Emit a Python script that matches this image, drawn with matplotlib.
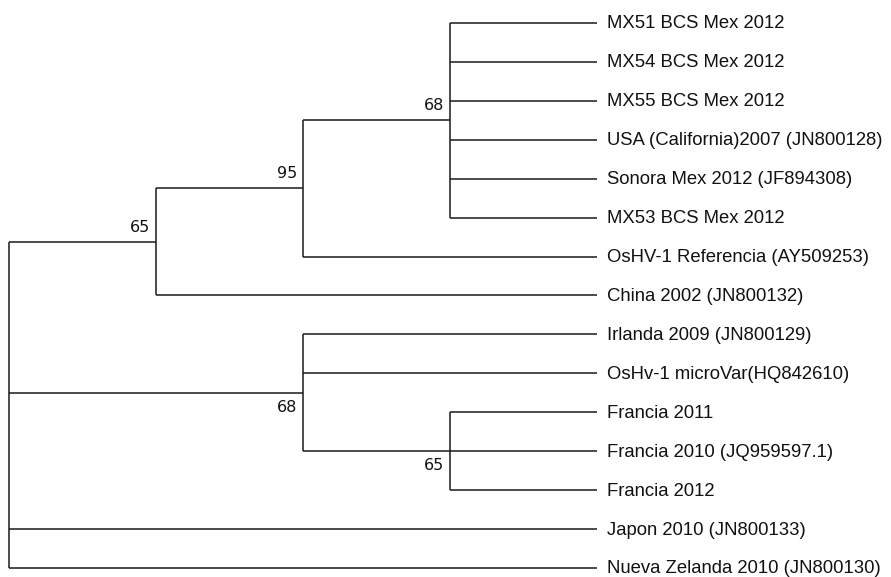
import matplotlib
matplotlib.use("Agg")
import matplotlib.pyplot as plt

# arbol (topologia) - nodos internos: (bootstrap, [hijos]), hojas: texto
tree = (None, [
    (65, [
        (95, [
            (68, ["MX51 BCS Mex 2012",
                  "MX54 BCS Mex 2012",
                  "MX55 BCS Mex 2012",
                  "USA (California)2007 (JN800128)",
                  "Sonora Mex 2012 (JF894308)",
                  "MX53 BCS Mex 2012"]),
            "OsHV-1 Referencia (AY509253)"]),
        "China 2002 (JN800132)"]),
    (68, ["Irlanda 2009 (JN800129)",
          "OsHv-1 microVar(HQ842610)",
          (65, ["Francia 2011",
                "Francia 2010 (JQ959597.1)",
                "Francia 2012"])]),
    "Japon 2010 (JN800133)",
    "Nueva Zelanda 2010 (JN800130)",
])

# lado de la etiqueta de bootstrap (en orden de recorrido)
label_side = ["above", "above", "above", "below", "below"]

col = "#1a1a1a"
lw = 1.1
unit = 147.0  # px por nivel
spacing = (568 - 23) / 14.0


def height(node):
    if isinstance(node, str):
        return 0
    return 1 + max(height(c) for c in node[1])


tip_x = height(tree)

fig = plt.figure(figsize=(8.91, 5.77), dpi=100)
ax = fig.add_axes([0, 0, 1, 1])

leaf_count = [0]
supports = []


def draw(node, parent_x=None):
    x = tip_x - height(node)
    if isinstance(node, str):
        y = leaf_count[0]
        leaf_count[0] += 1
        ax.annotate(node, (x, y), xytext=(10, -1), textcoords="offset pixels",
                    ha="left", va="center",
                    fontsize=13.3, family="Liberation Sans", color="#111111")
    else:
        support, children = node
        ys = [draw(c, x) for c in children]
        y = (ys[0] + ys[-1]) / 2
        ax.plot([x, x], [ys[0], ys[-1]], color=col, lw=lw, solid_capstyle="butt")
        if support is not None:
            supports.append((x, y, support))
    if parent_x is not None:
        ax.plot([parent_x, x], [y, y], color=col, lw=lw, solid_capstyle="butt")
    return y


draw(tree)

for (x, y, s), side in zip(supports, label_side):
    if side == "above":
        ax.annotate(str(s), (x, y), xytext=(-6, 7), textcoords="offset pixels",
                    ha="right", va="bottom", fontsize=11.5, color="#111111")
    else:
        ax.annotate(str(s), (x, y), xytext=(-6, -7), textcoords="offset pixels",
                    ha="right", va="top", fontsize=11.5, color="#111111")

ax.set_xlim(-9 / unit, (891 - 9) / unit)
ax.set_ylim(14 + 9 / spacing, -23 / spacing)
ax.axis("off")

fig.savefig("out.png", dpi=100)
